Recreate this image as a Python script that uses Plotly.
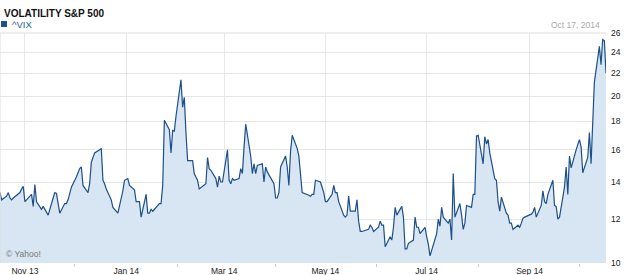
import plotly.graph_objects as go
import math

dates = [
    "2013-10-17","2013-10-18","2013-10-21","2013-10-22","2013-10-23","2013-10-24","2013-10-25","2013-10-28","2013-10-29","2013-10-30","2013-10-31",
    "2013-11-01","2013-11-04","2013-11-05","2013-11-06","2013-11-07","2013-11-08","2013-11-11","2013-11-12","2013-11-13","2013-11-14","2013-11-15",
    "2013-11-18","2013-11-19","2013-11-20","2013-11-21","2013-11-22","2013-11-25","2013-11-26","2013-11-27","2013-11-29",
    "2013-12-02","2013-12-03","2013-12-04","2013-12-05","2013-12-06","2013-12-09","2013-12-10","2013-12-11","2013-12-12","2013-12-13",
    "2013-12-16","2013-12-17","2013-12-18","2013-12-19","2013-12-20","2013-12-23","2013-12-24","2013-12-26","2013-12-27","2013-12-30","2013-12-31",
    "2014-01-02","2014-01-03","2014-01-06","2014-01-07","2014-01-08","2014-01-09","2014-01-10","2014-01-13","2014-01-14","2014-01-15","2014-01-16",
    "2014-01-17","2014-01-21","2014-01-22","2014-01-23","2014-01-24","2014-01-27","2014-01-28","2014-01-29","2014-01-30","2014-01-31",
    "2014-02-03","2014-02-04","2014-02-05","2014-02-06","2014-02-07","2014-02-10","2014-02-11","2014-02-12","2014-02-13","2014-02-14",
    "2014-02-18","2014-02-19","2014-02-20","2014-02-21","2014-02-24","2014-02-25","2014-02-26","2014-02-27","2014-02-28",
    "2014-03-03","2014-03-04","2014-03-05","2014-03-06","2014-03-07","2014-03-10","2014-03-11","2014-03-12","2014-03-13","2014-03-14",
    "2014-03-17","2014-03-18","2014-03-19","2014-03-20","2014-03-21","2014-03-24","2014-03-25","2014-03-26","2014-03-27","2014-03-28","2014-03-31",
    "2014-04-01","2014-04-02","2014-04-03","2014-04-04","2014-04-07","2014-04-08","2014-04-09","2014-04-10","2014-04-11","2014-04-14",
    "2014-04-15","2014-04-16","2014-04-17","2014-04-21","2014-04-22","2014-04-23","2014-04-24","2014-04-25","2014-04-28","2014-04-29","2014-04-30",
    "2014-05-01","2014-05-02","2014-05-05","2014-05-06","2014-05-07","2014-05-08","2014-05-09","2014-05-12","2014-05-13","2014-05-14","2014-05-15",
    "2014-05-16","2014-05-19","2014-05-20","2014-05-21","2014-05-22","2014-05-23","2014-05-27","2014-05-28","2014-05-29","2014-05-30",
    "2014-06-02","2014-06-03","2014-06-04","2014-06-05","2014-06-06","2014-06-09","2014-06-10","2014-06-11","2014-06-12","2014-06-13",
    "2014-06-16","2014-06-17","2014-06-18","2014-06-19","2014-06-20","2014-06-23","2014-06-24","2014-06-25","2014-06-26","2014-06-27","2014-06-30",
    "2014-07-01","2014-07-02","2014-07-03","2014-07-07","2014-07-08","2014-07-09","2014-07-10","2014-07-11","2014-07-14","2014-07-15","2014-07-16",
    "2014-07-17","2014-07-18","2014-07-21","2014-07-22","2014-07-23","2014-07-24","2014-07-25","2014-07-28","2014-07-29","2014-07-30","2014-07-31",
    "2014-08-01","2014-08-04","2014-08-05","2014-08-06","2014-08-07","2014-08-08","2014-08-11","2014-08-12","2014-08-13","2014-08-14","2014-08-15",
    "2014-08-18","2014-08-19","2014-08-20","2014-08-21","2014-08-22","2014-08-25","2014-08-26","2014-08-27","2014-08-28","2014-08-29",
    "2014-09-02","2014-09-03","2014-09-04","2014-09-05","2014-09-08","2014-09-09","2014-09-10","2014-09-11","2014-09-12","2014-09-15",
    "2014-09-16","2014-09-17","2014-09-18","2014-09-19","2014-09-22","2014-09-23","2014-09-24","2014-09-25","2014-09-26","2014-09-29","2014-09-30",
    "2014-10-01","2014-10-02","2014-10-03","2014-10-06","2014-10-07","2014-10-08","2014-10-09","2014-10-10","2014-10-13","2014-10-14",
    "2014-10-15","2014-10-16","2014-10-17",
]

vix = [
    13.4,13.0,13.2,13.4,13.1,13.0,13.1,13.3,13.4,13.6,13.75,
    12.9,13.2,13.3,12.65,13.85,12.9,12.5,12.65,12.5,12.35,12.2,
    13.1,13.4,13.35,12.7,12.3,12.8,12.8,13.0,13.7,
    14.3,14.6,14.8,14.9,13.8,13.4,13.9,15.2,15.5,15.8,
    16.0,16.1,14.1,13.9,13.6,13.0,12.6,12.4,12.3,13.5,14.1,
    14.2,13.8,13.55,12.9,12.9,12.9,12.1,13.3,12.3,12.3,12.5,
    12.4,12.8,12.8,13.8,18.1,17.4,15.8,17.35,17.3,18.4,
    21.4,19.1,19.9,17.2,15.3,15.3,14.5,14.3,14.1,13.6,
    13.9,15.5,14.8,14.7,14.2,13.7,14.35,14.0,14.0,
    16.0,14.1,13.9,14.2,14.1,14.2,14.8,14.5,16.2,17.8,
    15.6,14.5,15.1,14.5,15.0,15.1,14.0,14.9,14.6,14.4,13.9,
    13.1,13.1,13.4,14.9,15.6,14.9,13.8,15.9,17.0,16.1,
    15.6,14.2,13.4,13.25,13.2,13.3,13.3,14.1,14.0,13.7,13.4,
    12.9,12.9,13.3,13.8,13.4,13.4,12.9,12.2,12.1,12.2,13.2,
    12.4,12.4,13.0,11.9,11.4,11.4,11.5,11.7,11.6,11.4,
    11.6,11.9,11.7,11.7,10.7,11.15,11.0,11.6,12.6,12.2,
    12.65,12.1,10.6,10.6,10.85,11.0,12.1,11.6,11.6,11.3,11.6,
    11.15,10.8,10.3,11.3,12.0,11.65,12.6,12.1,11.8,12.0,11.0,
    14.5,12.1,12.8,12.2,11.5,11.8,12.7,12.6,13.3,13.3,16.95,
    17.0,15.1,16.9,16.4,16.7,15.8,14.2,14.1,12.9,12.4,13.15,
    12.3,12.2,11.8,11.8,11.5,11.7,11.6,11.8,12.05,12.1,
    12.25,12.35,12.6,12.1,12.7,13.5,12.9,12.8,13.3,14.1,
    12.7,12.65,12.0,12.1,13.7,14.9,13.3,15.6,14.85,16.0,16.3,
    16.7,16.2,14.55,15.5,17.2,15.1,18.8,21.2,24.6,22.8,
    25.3,25.2,22.0,
]

x_tick_vals = ["2013-11-01","2014-01-01","2014-03-01","2014-05-01","2014-07-01","2014-09-01"]
x_tick_text = ["Nov 13","Jan 14","Mar 14","May 14","Jul 14","Sep 14"]
y_tick_vals = [10, 12, 14, 16, 18, 20, 22, 24, 26]
y_tick_text = ["10", "12", "14", "16", "18", "20", "22", "24", "26"]

title_text = "VOLATILITY S&P 500"
series_name = "^VIX"
date_text = "Oct 17, 2014"
credit_text = "© Yahoo!"

LINE = "#1d4f8a"
FILL = "#d7e6f2"
FONT = "Liberation Sans, Arial, sans-serif"

W, H = 625, 275
ML, MR, MT, MB = 0, 19, 33, 12
PH = H - MT - MB
PW = W - ML - MR

def py(pix):
    return (H - MB - pix) / PH

def px(pix):
    return (pix - ML) / PW

fig = go.Figure()
fig.add_trace(go.Scatter(
    x=dates, y=vix, mode="lines", name=series_name,
    line=dict(color=LINE, width=1.2),
    fill="tozeroy", fillcolor=FILL, showlegend=False,
))

fig.update_layout(
    width=W, height=H,
    margin=dict(l=ML, r=MR, t=MT, b=MB, pad=0),
    paper_bgcolor="white", plot_bgcolor="white",
    font=dict(family=FONT, size=9, color="#333333"),
    showlegend=False,
    xaxis=dict(
        type="date", range=[dates[0], dates[-1]],
        tickvals=x_tick_vals, ticktext=x_tick_text,
        showgrid=True, gridcolor="#e3e9ef", gridwidth=1,
        ticks="outside", ticklen=0, tickcolor="#cccccc",
        tickfont=dict(size=8.5, color="#222222"),
        showline=False, zeroline=False,
        minor=dict(ticks="outside", ticklen=3, tickcolor="#cccccc",
                   tick0="2013-12-01", dtick="M2", showgrid=False),
    ),
    yaxis=dict(
        type="log", range=[1, math.log10(26)], side="right",
        tickvals=y_tick_vals, ticktext=y_tick_text,
        showgrid=True, gridcolor="#e6e6e6", gridwidth=1,
        ticks="", tickfont=dict(size=8.5, color="#222222"),
        showline=False, zeroline=False,
        ticklabelstandoff=4,
    ),
    annotations=[
        dict(xref="paper", yref="paper", x=px(2), y=py(13), xanchor="left", yanchor="middle",
             text="<b>" + title_text + "</b>", showarrow=False,
             font=dict(family=FONT, size=10, color="#111111")),
        dict(xref="paper", yref="paper", x=px(10), y=py(24), xanchor="left", yanchor="middle",
             text=series_name, showarrow=False,
             font=dict(family=FONT, size=9.5, color="#2a5fa0")),
        dict(xref="paper", yref="paper", x=px(602), y=py(25), xanchor="right", yanchor="middle",
             text=date_text, showarrow=False,
             font=dict(family=FONT, size=8.5, color="#aaaaaa")),
        dict(xref="paper", yref="paper", x=px(4), y=py(254), xanchor="left", yanchor="middle",
             text=credit_text, showarrow=False,
             font=dict(family=FONT, size=8.5, color="#777777")),
    ],
    shapes=[
        dict(type="rect", xref="paper", yref="paper", x0=px(1), x1=px(7), y0=py(27), y1=py(21),
             fillcolor=LINE, line=dict(width=0)),
        dict(type="line", xref="paper", yref="paper", x0=0, x1=1, y0=1, y1=1,
             line=dict(color="#dddddd", width=1)),
        dict(type="line", xref="paper", yref="paper", x0=0, x1=0, y0=0, y1=1,
             line=dict(color="#dddddd", width=1)),
    ],
)

fig.write_html("out.html")
